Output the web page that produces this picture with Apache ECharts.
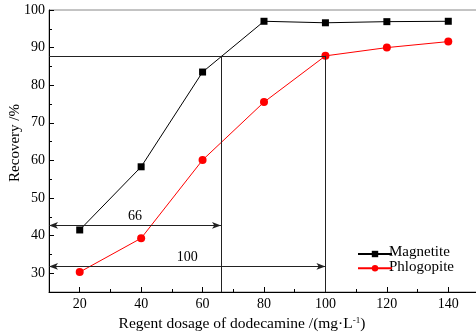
<!DOCTYPE html>
<html>
<head>
<meta charset="utf-8">
<script src="https://cdn.jsdelivr.net/npm/echarts@6/dist/echarts.min.js"></script>
<style>html,body{margin:0;padding:0;background:#fff;}#c{width:476px;height:335px;}</style>
</head>
<body>
<div id="c"></div>
<script>
const categories = [20, 40, 60, 80, 100, 120, 140];
const magnetite = [41.5, 58.3, 83.5, 97.0, 96.6, 96.9, 97.0];
const phlogopite = [30.3, 39.3, 60.1, 75.5, 87.8, 90.0, 91.6];
const xTickLabels = [20, 40, 60, 80, 100, 120, 140];
const xMinorTicks = [30, 50, 70, 90, 110, 130, 150];
const yTickLabels = [30, 40, 50, 60, 70, 80, 90, 100];
const yMinorTicks = [35, 45, 55, 65, 75, 85, 95];
const refLevel = 87.8;          // recovery level of reference lines
const refDosages = [66, 100];   // dosages marked by vertical lines
const arrowLevels = [42.7, 31.8]; // heights of the arrows
const arrowLabels = ['66', '100'];
const seriesNames = ['Magnetite', 'Phlogopite'];
const yTitle = 'Recovery /%';

const FONT = 'Liberation Serif';
const chart = echarts.init(document.getElementById('c'));

const xMin = 10, xMax = 150, yMin = 25, yMax = 100;

const plainLines = [
  [{coord: [xMin, refLevel]}, {coord: [refDosages[1], refLevel]}],
  [{coord: [refDosages[0], yMin]}, {coord: [refDosages[0], refLevel]}],
  [{coord: [refDosages[1], yMin]}, {coord: [refDosages[1], refLevel]}]
];
const arrowLines = refDosages.map((d, i) => [
  {coord: [xMin, arrowLevels[i]], name: arrowLabels[i]},
  {coord: [d, arrowLevels[i]]}
]);

const LEG_LEFT = 352, LEG_TOP = 245, TEXT_TOP = 252, LEG_STEP = 15;

chart.setOption({
  animation: false,
  backgroundColor: '#fff',
  textStyle: {fontFamily: FONT},
  grid: {left: 49, right: -3, top: 10, bottom: 43, show: true, borderColor: '#888', borderWidth: 1,
         containLabel: false, outerBoundsMode: 'none'},
  legend: {
    orient: 'vertical', left: LEG_LEFT, top: LEG_TOP, itemGap: LEG_STEP - 8,
    itemWidth: 34, itemHeight: 8,
    formatter: () => '',
    data: seriesNames
  },
  graphic: seriesNames.map((n, i) => ({
    type: 'text', x: LEG_LEFT + 37, y: TEXT_TOP + i * LEG_STEP,
    style: {text: n, fontFamily: FONT, fontSize: 15, fill: '#000', verticalAlign: 'middle', align: 'left'}
  })).concat([{
    type: 'text', x: 15, y: 143, rotation: Math.PI / 2,
    style: {text: yTitle, fontFamily: FONT, fontSize: 15, fill: '#000', verticalAlign: 'middle', align: 'center'}
  }]),
  xAxis: [{
    type: 'value', min: xMin, max: xMax, interval: 10,
    axisLine: {lineStyle: {color: '#000', width: 1}},
    axisTick: {inside: true, length: 5, customValues: xTickLabels, lineStyle: {color: '#000'}},
    axisLabel: {customValues: xTickLabels, fontFamily: FONT, fontSize: 14, color: '#000', margin: 5},
    splitLine: {show: false},
    name: 'Regent dosage of dodecamine /(mg·L{s|-1})',
    nameLocation: 'middle', nameGap: 21,
    nameTextStyle: {fontFamily: FONT, fontSize: 15.5, color: '#000', padding: [0, 44, 0, 0],
      rich: {s: {fontFamily: FONT, fontSize: 9, verticalAlign: 'top', padding: [0, 0, 8, 0], color: '#000'}}}
  }, {
    type: 'value', min: xMin, max: xMax, interval: 10, position: 'bottom',
    axisLine: {show: false},
    axisTick: {inside: true, length: 3, customValues: xMinorTicks, lineStyle: {color: '#000'}},
    axisLabel: {show: false}, splitLine: {show: false}
  }],
  yAxis: [{
    type: 'value', min: yMin, max: yMax, interval: 5,
    axisLine: {show: true, lineStyle: {color: '#000', width: 1}},
    axisTick: {show: true, inside: true, length: 5, customValues: yTickLabels, lineStyle: {color: '#000'}},
    axisLabel: {customValues: yTickLabels, fontFamily: FONT, fontSize: 14, color: '#000', margin: 4},
    splitLine: {show: false}
  }, {
    type: 'value', min: yMin, max: yMax, interval: 5, position: 'left',
    axisLine: {show: false},
    axisTick: {show: true, inside: true, length: 3, customValues: yMinorTicks, lineStyle: {color: '#000'}},
    axisLabel: {show: false}, splitLine: {show: false}
  }],
  series: [
    {
      type: 'line', data: [], silent: true,
      markLine: {
        silent: true, symbol: ['none', 'none'],
        lineStyle: {color: '#222', width: 1, type: 'solid'},
        label: {show: false},
        data: plainLines
      }
    },
    {
      type: 'line', data: [], silent: true,
      markLine: {
        silent: true, symbol: ['arrow', 'arrow'], symbolSize: [5, 9],
        lineStyle: {color: '#222', width: 1, type: 'solid'},
        label: {show: true, position: 'middle', formatter: '{b}', fontFamily: FONT, fontSize: 14, color: '#000', distance: 2},
        data: arrowLines
      }
    },
    {
      name: seriesNames[0], type: 'line',
      data: categories.map((c, i) => [c, magnetite[i]]),
      symbol: 'rect', symbolSize: 7,
      lineStyle: {color: '#000', width: 1},
      itemStyle: {color: '#000'}
    },
    {
      name: seriesNames[1], type: 'line',
      data: categories.map((c, i) => [c, phlogopite[i]]),
      symbol: 'circle', symbolSize: 8,
      lineStyle: {color: '#ff0000', width: 1},
      itemStyle: {color: '#ff0000'}
    }
  ]
});
</script>
</body>
</html>
